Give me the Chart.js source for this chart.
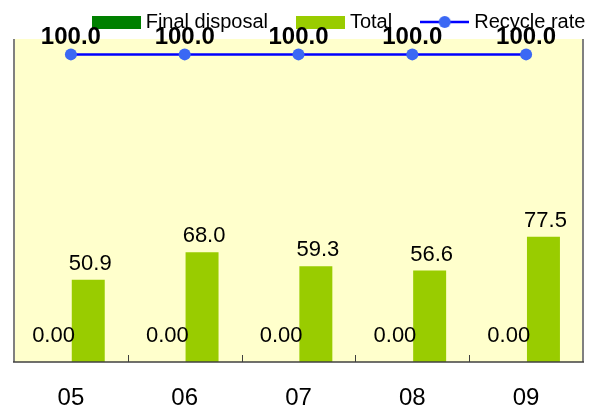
<!DOCTYPE html>
<html>
<head>
<meta charset="utf-8">
<script src="https://cdn.jsdelivr.net/npm/chart.js@4"></script>
<style>
  html, body { margin: 0; padding: 0; background: #ffffff; }
  #wrap { width: 606px; height: 412px; }
</style>
</head>
<body>
<div id="wrap"><canvas id="c" width="606" height="412"></canvas></div>
<script>
const categories = ['05', '06', '07', '08', '09'];
const finalDisposal = [0.00, 0.00, 0.00, 0.00, 0.00];
const totalValues = [50.9, 68.0, 59.3, 56.6, 77.5];
const recycleRate = [100.0, 100.0, 100.0, 100.0, 100.0];
const seriesNames = ['Final disposal', 'Total', 'Recycle rate'];

const FONT = "'Liberation Sans', Arial, Helvetica, sans-serif";
const GREEN = '#008000';
const YGREEN = '#99CC00';
const LINEBLUE = '#0000FF';
const POINTBLUE = '#3B68F4';

function boxCanvas(color) {
  const c = document.createElement('canvas');
  c.width = 49; c.height = 13;
  const g = c.getContext('2d');
  g.fillStyle = color; g.fillRect(0, 0, 49, 13);
  return c;
}
function lineCanvas() {
  const c = document.createElement('canvas');
  c.width = 49; c.height = 14;
  const g = c.getContext('2d');
  g.strokeStyle = LINEBLUE; g.lineWidth = 2.5;
  g.beginPath(); g.moveTo(0, 7); g.lineTo(49, 7); g.stroke();
  g.fillStyle = POINTBLUE;
  g.beginPath(); g.arc(24.5, 7, 6, 0, Math.PI * 2); g.fill();
  return c;
}
const legendIcons = [boxCanvas(GREEN), boxCanvas(YGREEN), lineCanvas()];

const legendPlacePlugin = {
  id: 'legendPlace',
  beforeLayout(chart) {
    const lg = chart.legend;
    if (lg && !lg._fitWrapped) {
      const orig = lg.fit;
      lg.fit = function () { orig.call(this); this.height = 39; };
      lg._fitWrapped = true;
    }
  },
  afterLayout(chart) {
    const lg = chart.legend;
    if (!lg) return;
    lg.top -= 21;
    lg.left += 27; lg.right += 58;
  }
};

const backgroundPlugin = {
  id: 'bgFrame',
  beforeDraw(chart) {
    const a = chart.chartArea, ctx = chart.ctx;
    ctx.save();
    ctx.fillStyle = '#FFFFCC';
    ctx.fillRect(a.left, a.top, a.right - a.left, a.bottom - a.top);
    ctx.restore();
  },
  afterDatasetsDraw(chart) {
    const a = chart.chartArea, ctx = chart.ctx;
    const xs = chart.scales.x;
    ctx.save();
    ctx.strokeStyle = '#808080';
    ctx.lineWidth = 2;
    ctx.beginPath();
    ctx.moveTo(a.left, a.top); ctx.lineTo(a.left, a.bottom);
    ctx.moveTo(a.right, a.top); ctx.lineTo(a.right, a.bottom);
    ctx.stroke();
    ctx.strokeStyle = '#404040';
    ctx.lineWidth = 1.5;
    ctx.beginPath();
    ctx.moveTo(a.left - 1, a.bottom); ctx.lineTo(a.right + 1, a.bottom);
    ctx.stroke();
    ctx.lineWidth = 1;
    ctx.beginPath();
    for (let i = 1; i < categories.length; i++) {
      const x = Math.round((xs.getPixelForValue(i - 1) + xs.getPixelForValue(i)) / 2) + 0.5;
      ctx.moveTo(x, a.bottom); ctx.lineTo(x, a.bottom - 7);
    }
    ctx.stroke();
    ctx.restore();
  }
};

const labelPlugin = {
  id: 'valueLabels',
  afterDatasetsDraw(chart) {
    const ctx = chart.ctx;
    ctx.save();
    ctx.fillStyle = '#000';
    ctx.textAlign = 'center';
    ctx.textBaseline = 'middle';
    chart.data.datasets.forEach((ds, di) => {
      const meta = chart.getDatasetMeta(di);
      meta.data.forEach((el, i) => {
        const v = ds.data[i];
        if (di === 0) {
          ctx.font = '22px ' + FONT;
          ctx.fillText(v.toFixed(2), el.x, el.y - 26);
        } else if (di === 1) {
          ctx.font = '22px ' + FONT;
          ctx.fillText(v.toFixed(1), el.x + 2, el.y - 16);
        } else {
          ctx.font = 'bold 24px ' + FONT;
          ctx.fillText(v.toFixed(1), el.x, el.y - 17);
        }
      });
    });
    ctx.restore();
  }
};

Chart.defaults.color = '#000';
Chart.defaults.font.family = FONT;

new Chart(document.getElementById('c'), {
  type: 'bar',
  data: {
    labels: categories,
    datasets: [
      {
        label: seriesNames[0],
        data: finalDisposal,
        backgroundColor: GREEN,
        yAxisID: 'y',
        categoryPercentage: 0.61,
        barPercentage: 0.95
      },
      {
        label: seriesNames[1],
        data: totalValues,
        backgroundColor: YGREEN,
        yAxisID: 'y',
        categoryPercentage: 0.61,
        barPercentage: 0.95
      },
      {
        type: 'line',
        label: seriesNames[2],
        data: recycleRate,
        yAxisID: 'y1',
        borderColor: LINEBLUE,
        borderWidth: 2.5,
        backgroundColor: POINTBLUE,
        pointBackgroundColor: POINTBLUE,
        pointBorderWidth: 0,
        pointRadius: 6,
        tension: 0,
        fill: false
      }
    ]
  },
  options: {
    responsive: false,
    animation: false,
    layout: { padding: { left: 14, right: 23, top: 0, bottom: 1 } },
    plugins: {
      legend: {
        position: 'top',
        labels: {
          font: { size: 20, family: FONT },
          color: '#000',
          usePointStyle: true,
          pointStyleWidth: 39,
          boxHeight: 13,
          padding: 33,
          generateLabels(chart) {
            return chart.data.datasets.map((ds, i) => ({
              text: ds.label,
              pointStyle: legendIcons[i],
              fillStyle: ds.backgroundColor,
              strokeStyle: ds.backgroundColor,
              lineWidth: 0,
              hidden: !chart.isDatasetVisible(i),
              datasetIndex: i,
              fontColor: '#000'
            }));
          }
        }
      },
      tooltip: { enabled: false }
    },
    scales: {
      x: {
        offset: true,
        grid: { display: false, drawTicks: false },
        border: { display: false },
        ticks: { font: { size: 24, family: FONT }, color: '#000', padding: 22 },
        afterFit(scale) { scale.height = 49; }
      },
      y: {
        display: false,
        min: 0,
        max: 200
      },
      y1: {
        display: false,
        position: 'right',
        min: 0,
        max: 105
      }
    }
  },
  plugins: [legendPlacePlugin, backgroundPlugin, labelPlugin]
});
</script>
</body>
</html>
